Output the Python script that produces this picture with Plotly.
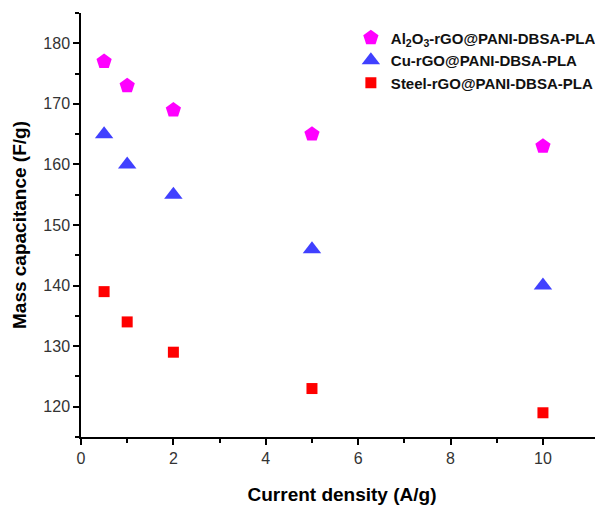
import plotly.graph_objects as go

current_density = [0.5, 1, 2, 5, 10]
al2o3_cap = [177, 173, 169, 165, 163]
cu_cap = [165, 160, 155, 146, 140]
steel_cap = [139, 134, 129, 123, 119]

series_names = ["<b>Al<sub>2</sub>O<sub>3</sub>-rGO@PANI-DBSA-PLA</b>",
                "<b>Cu-rGO@PANI-DBSA-PLA</b>",
                "<b>Steel-rGO@PANI-DBSA-PLA</b>"]

fig = go.Figure()
fig.add_trace(go.Scatter(x=current_density, y=al2o3_cap, mode="markers", name=series_names[0],
                         marker=dict(symbol="pentagon", size=16, color="#FF00FF")))
fig.add_trace(go.Scatter(x=current_density, y=cu_cap, mode="markers", name=series_names[1],
                         marker=dict(symbol="triangle-up", size=16, color="#4040FF")))
fig.add_trace(go.Scatter(x=current_density, y=steel_cap, mode="markers", name=series_names[2],
                         marker=dict(symbol="square", size=11, color="#FF0000")))

axis_common = dict(showline=True, linecolor="black", linewidth=1.5, ticks="outside",
                   ticklen=6, tickwidth=1.5, tickcolor="black", showgrid=False, zeroline=False,
                   tickfont=dict(family="Arial, Liberation Sans", size=16, color="#333333"),
                   mirror=False, automargin=False)

fig.update_xaxes(range=[0, 11.3], tickvals=[0, 2, 4, 6, 8, 10],
                 minor=dict(tickvals=[1, 3, 5, 7, 9], ticks="outside", ticklen=4, tickwidth=1.5, tickcolor="black"),
                 title=dict(text="<b>Current density (A/g)</b>", standoff=22,
                            font=dict(family="Arial, Liberation Sans", size=19, color="black")),
                 **axis_common)
fig.update_yaxes(range=[115, 185], tickvals=[120, 130, 140, 150, 160, 170, 180],
                 minor=dict(tickvals=[115, 125, 135, 145, 155, 165, 175, 185], ticks="outside", ticklen=4, tickwidth=1.5, tickcolor="black"),
                 title=dict(text="<b>Mass capacitance (F/g)</b>", standoff=12,
                            font=dict(family="Arial, Liberation Sans", size=19, color="black")),
                 **axis_common)

# page body has an 8px default margin, compensate for it
fig.update_layout(
    width=595, height=498,
    margin=dict(l=73, r=0, t=5, b=69, autoexpand=False),
    plot_bgcolor="white", paper_bgcolor="white",
    showlegend=True,
    legend=dict(x=0.517, y=0.98, xanchor="left", yanchor="top",
                bgcolor="rgba(0,0,0,0)",
                font=dict(family="Arial, Liberation Sans", size=15, color="#111111"),
                tracegroupgap=0, itemsizing="trace"),
)

fig.write_html("out.html")
